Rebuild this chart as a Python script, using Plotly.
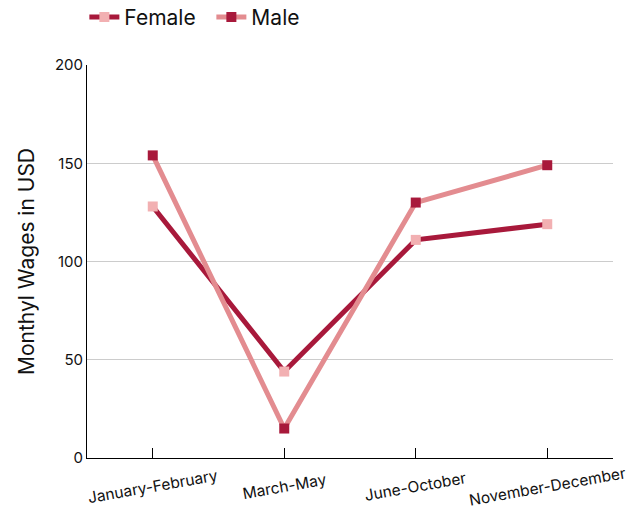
import plotly.graph_objects as go

categories = ["January-February", "March-May", "June-October", "November-December"]
female = [128, 44, 111, 119]
male = [154, 15, 130, 149]

DARK = "#a8193b"
LIGHT_LINE = "#e38c90"
LIGHT_MARK = "#f2b0b2"

fig = go.Figure()
fig.add_trace(go.Scatter(
    x=categories, y=female, name="Female", mode="lines+markers",
    line=dict(color=DARK, width=5),
    marker=dict(symbol="square", size=10, color=LIGHT_MARK),
))
fig.add_trace(go.Scatter(
    x=categories, y=male, name="Male", mode="lines+markers",
    line=dict(color=LIGHT_LINE, width=5),
    marker=dict(symbol="square", size=10, color=DARK),
))

# category labels, rotated and centred under their ticks
for c in categories:
    fig.add_annotation(
        x=c, xref="x", y=-0.072, yref="paper",
        text=c, showarrow=False, textangle=-10,
        xanchor="center", yanchor="middle",
        font=dict(size=15.5, color="#111111", family="Inter, sans-serif"),
    )

fig.update_layout(
    width=642, height=513,
    margin=dict(l=87, r=29, t=65, b=55, autoexpand=False),
    paper_bgcolor="white", plot_bgcolor="white",
    font=dict(family="Inter, sans-serif", color="#111111"),
    showlegend=True,
    legend=dict(orientation="h", x=-0.005, y=0.966, xanchor="left", yanchor="middle",
                yref="container", font=dict(size=21),
                entrywidth=82, entrywidthmode="pixels"),
    xaxis=dict(
        type="category", range=[-0.5, 3.5],
        showline=True, linecolor="black", linewidth=1,
        ticks="inside", ticklen=10, tickcolor="black",
        showticklabels=False,
        showgrid=False, zeroline=False, automargin=False,
    ),
    yaxis=dict(
        range=[0, 200], dtick=50,
        showline=True, linecolor="black", linewidth=1,
        gridcolor="#cccccc", gridwidth=1,
        ticks="", tickfont=dict(size=15),
        title=dict(text="Monthyl Wages in USD", font=dict(size=21), standoff=14),
        zeroline=False, automargin=False,
    ),
)

fig.write_html("out.html", config={"displayModeBar": False},
               post_script="document.body.style.margin='0';")
